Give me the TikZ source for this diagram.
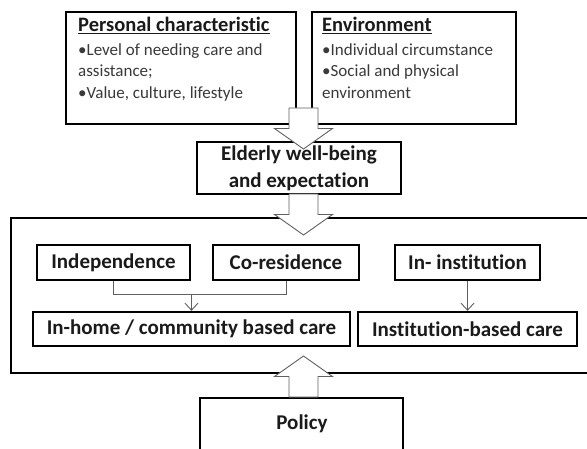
\documentclass[tikz,border=0pt]{standalone}
\usepackage{fontspec}
\setmainfont{Carlito}[Ligatures=NoCommon]
\usetikzlibrary{calc}
\usetikzlibrary{arrows.meta}
\usetikzlibrary{positioning}
\definecolor{inkgray}{RGB}{58, 58, 58}
\definecolor{titleink}{RGB}{26, 26, 26}
\definecolor{linegray}{RGB}{96, 96, 96}
\newcommand{\boxtitle}[1]{{\fontsize{20.5}{23}\selectfont\bfseries\color{titleink}\underline{#1}}}
\tikzset{
    blockline/.style={draw=linegray, line width=0.9pt, fill=white},
    pics/downblock/.style={code={
        \draw[blockline] (-14.5,-20.5) -- (14.5,-20.5) -- (14.5,0) -- (29,0) -- (0,20.5) -- (-29,0) -- (-14.5,0) -- cycle;
    }}
}

\begin{document}
\begin{tikzpicture}[x=1pt, y=-1pt,
    framebox/.style={draw=black, line width=2.3pt, fill=white, inner sep=0pt},
    carebox/.style={framebox, text=titleink, font=\fontsize{21}{27}\selectfont\bfseries, align=center},
    toptext/.style={align=left, inner sep=0pt, text=inkgray, font=\fontsize{17}{21.5}\selectfont},
    link/.style={draw=linegray, line width=0.9pt},
    linkarrow/.style={link, -{Straight Barb[length=7pt, width=13pt]}}]
            \clip (0,0) rectangle (587,449);
            % top boxes
            \node[framebox, minimum width=230pt, minimum height=112pt] (pers) at (181.0, 68.0) {};
            \node[framebox, minimum width=204pt, minimum height=112pt] (env)  at (414.0, 68.0) {};
            \node[toptext, anchor=north west] (perstext) at (78, 17)
                 {\boxtitle{Personal characteristic}\\[2pt] •Level of needing care and\\ assistance;\\ •Value, culture, lifestyle};
            \node[toptext, anchor=north west] (envtext)  at (322, 17)
                 {\boxtitle{Environment}\\[2pt] •Individual circumstance\\ •Social and physical\\ environment};
            % middle
            \node[carebox, minimum width=204pt, minimum height=52pt] (wellbeing) at (299.0, 168.0) {Elderly well-being\\and expectation};
            % big frame with care types
            \node[framebox, minimum width=589pt, minimum height=155pt] (frame) at (305.5, 295.5) {};
            \node[carebox, minimum width=153pt, minimum height=35pt] (indep)   at (113.5, 262.5) {Independence};
            \node[carebox, minimum width=146pt, minimum height=35pt] (cores)   at (286.0, 262.5) {Co-residence};
            \node[carebox, minimum width=145pt, minimum height=35pt] (instin)  at (467.5, 262.5) {In- institution};
            \node[carebox, minimum width=317pt, minimum height=34pt] (inhome)  at (191.5, 329.0) {In-home / community based care};
            \node[carebox, minimum width=219pt, minimum height=34pt] (instcare) at (467.5, 329.0) {Institution-based care};
            \node[carebox, minimum width=203pt, minimum height=62pt] (policy)  at (301.5, 429.0) {};
            \node[text=titleink, font=\fontsize{21}{24}\selectfont\bfseries, inner sep=0pt] (policytext) at (302.0, 424.0) {Policy};
            % connectors
            \coordinate (join) at ($(inhome.north)+(0,-16)$);
            \draw[link] (indep.south) |- (join) -| (cores.south);
            \draw[linkarrow] (join) -- (inhome.north);
            \draw[linkarrow] (instin.south) -- (instin.south |- instcare.north);
            % block arrows
            \pic (arrtop) at (303.5, 128.5) {downblock};
            \pic (arrmid) at (303.5, 214.5) {downblock};
            \pic[yscale=-1] (arrpol) at (303.5, 376.5) {downblock};
\end{tikzpicture}
\end{document}
